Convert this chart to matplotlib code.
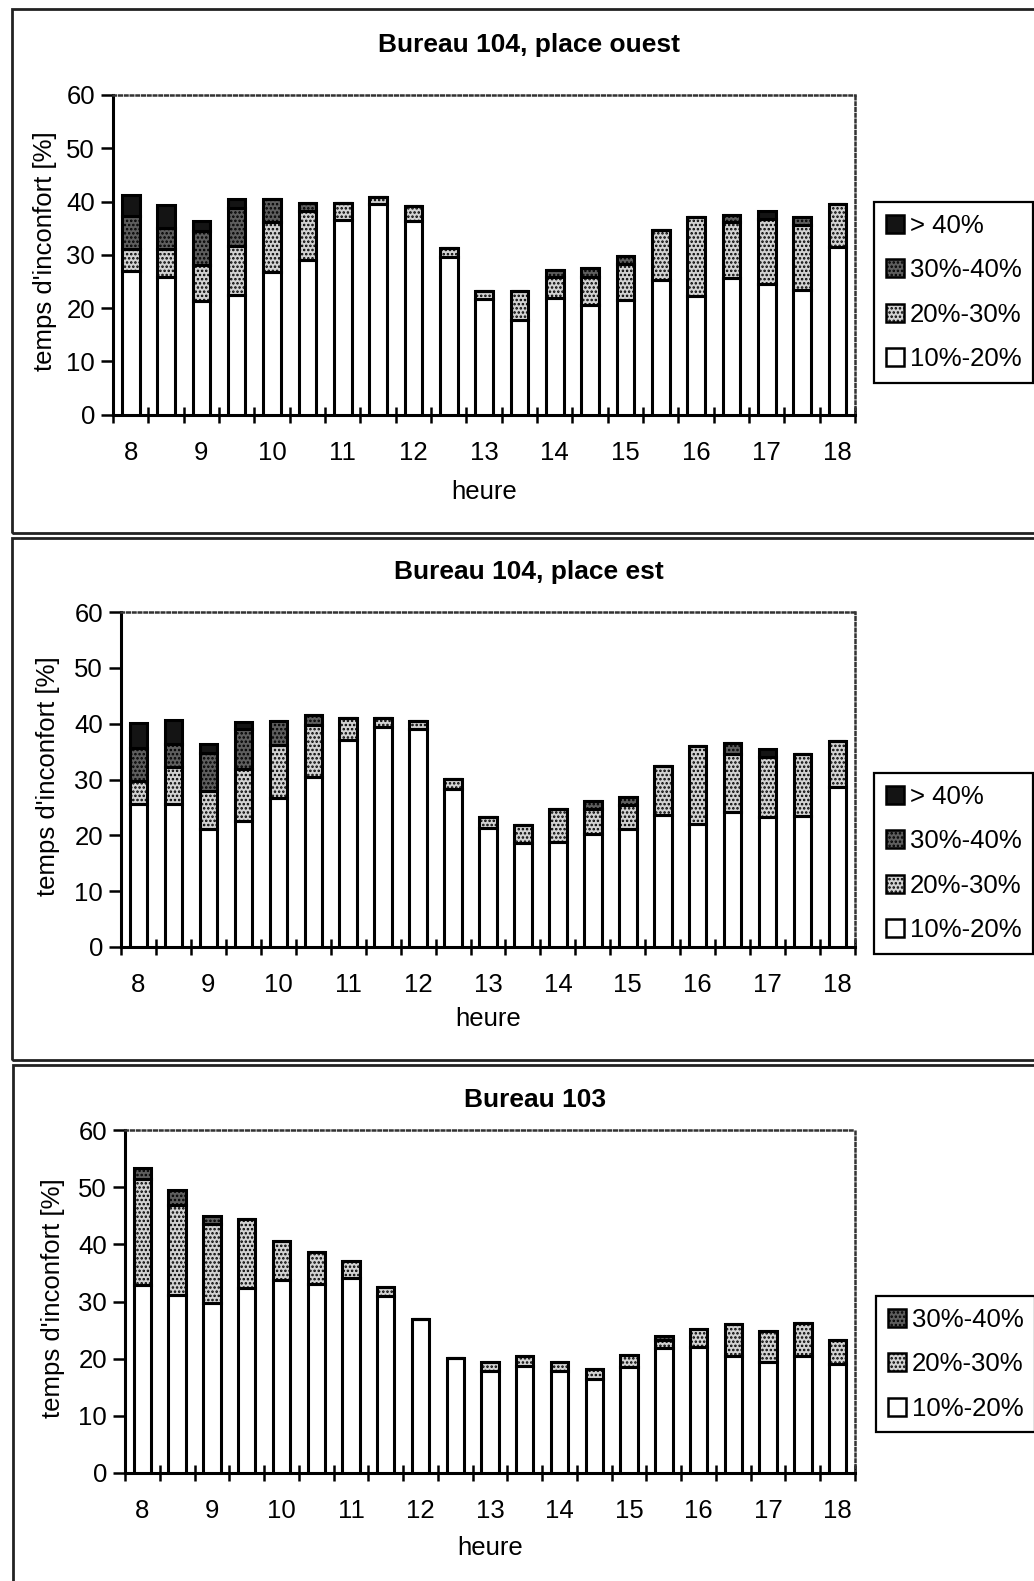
import numpy as np
import matplotlib
matplotlib.use("Agg")
import matplotlib.pyplot as plt
from matplotlib.patches import Patch, Rectangle

plt.rcParams['font.family'] = ['Liberation Sans', 'DejaVu Sans']
plt.rcParams['hatch.linewidth'] = 1.2

# ===== données =====
heures = [8, 9, 10, 11, 12, 13, 14, 15, 16, 17, 18]
n_bars = 21  # une barre par demi-heure, de 8h à 18h

titres = ["Bureau 104, place ouest", "Bureau 104, place est", "Bureau 103"]
classes = ["> 40%", "30%-40%", "20%-30%", "10%-20%"]

# Bureau 104, place ouest
ouest_10_20 = [27.0, 25.8, 21.4, 22.5, 26.7, 29.1, 36.5, 39.5, 36.3, 29.6, 21.7,
               17.7, 21.9, 20.6, 21.5, 25.3, 22.2, 25.6, 24.5, 23.4, 31.4]
ouest_20_30 = [4.1, 5.3, 6.6, 9.2, 9.4, 9.2, 3.3, 1.4, 2.9, 1.7, 1.4,
               5.4, 3.9, 5.2, 6.8, 9.4, 14.8, 10.5, 12.2, 12.2, 8.1]
ouest_30_40 = [6.2, 4.0, 6.5, 7.1, 4.3, 1.5, 0, 0, 0, 0, 0,
               0, 1.4, 1.8, 1.5, 0, 0, 1.3, 0, 1.5, 0]
ouest_40 = [3.9, 4.2, 1.8, 1.6, 0, 0, 0, 0, 0, 0, 0,
            0, 0, 0, 0, 0, 0, 0, 1.6, 0, 0]

# Bureau 104, place est
est_10_20 = [25.7, 25.7, 21.2, 22.6, 26.7, 30.4, 37.0, 39.4, 39.1, 28.3, 21.4,
             18.7, 18.8, 20.3, 21.1, 23.6, 22.0, 24.1, 23.2, 23.5, 28.6]
est_20_30 = [4.1, 6.5, 6.8, 9.3, 9.4, 9.4, 4.1, 1.7, 1.3, 1.8, 1.8,
             3.1, 5.9, 4.5, 4.3, 8.8, 14.0, 10.5, 10.8, 11.1, 8.3]
est_30_40 = [5.8, 4.2, 6.8, 7.1, 4.3, 1.7, 0, 0, 0, 0, 0,
             0, 0, 1.4, 1.4, 0, 0, 2.0, 0, 0, 0]
est_40 = [4.6, 4.2, 1.5, 1.3, 0, 0, 0, 0, 0, 0, 0,
          0, 0, 0, 0, 0, 0, 0, 1.4, 0, 0]

# Bureau 103
b103_10_20 = [32.9, 31.1, 29.8, 32.4, 33.7, 33.1, 34.1, 30.9, 27.0, 20.2, 17.9,
              18.8, 17.9, 16.4, 18.6, 21.9, 22.1, 20.4, 19.4, 20.4, 19.0]
b103_20_30 = [18.6, 15.8, 13.7, 12.0, 6.9, 5.5, 3.0, 1.7, 0, 0, 1.6,
              1.7, 1.6, 1.8, 2.0, 1.4, 3.1, 5.6, 5.5, 5.9, 4.2]
b103_30_40 = [1.8, 2.6, 1.5, 0, 0, 0, 0, 0, 0, 0, 0,
              0, 0, 0, 0, 0.6, 0, 0, 0, 0, 0]

# ===== styles des classes =====
styles = {
    "10%-20%": dict(facecolor="white", hatch=None),
    "20%-30%": dict(facecolor="#d2d2d2", hatch="...."),
    "30%-40%": dict(facecolor="#5e5e5e", hatch="...."),
    "> 40%": dict(facecolor="#141414", hatch=None),
}

FS = 18.5
W, H = 1034, 1581
fig = plt.figure(figsize=(W / 100, H / 100), dpi=100)


def px_axes(left, right, top, bottom):
    return fig.add_axes([left / W, 1 - bottom / H, (right - left) / W, (bottom - top) / H])


def cadre(left, top, bottom):
    fig.patches.append(Rectangle((left / W, 1 - bottom / H), 1.2, (bottom - top) / H,
                                 transform=fig.transFigure, fill=False,
                                 edgecolor="#222222", linewidth=2))


def panneau(ax, series, titre, title_xy, leg_xy, ylab_x, xlab_y):
    x = np.arange(n_bars)
    bottom = np.zeros(n_bars)
    for nom, vals in series:
        st = styles[nom]
        ax.bar(x, vals, width=0.5, bottom=bottom, facecolor=st["facecolor"],
               hatch=st["hatch"], edgecolor="black", linewidth=2.2, zorder=3)
        bottom += np.array(vals)

    ax.set_xlim(-0.5, n_bars - 0.5)
    ax.set_ylim(0, 60)
    ax.set_yticks(range(0, 61, 10))
    ax.tick_params(axis="y", direction="out", length=9, width=1.8, pad=4, labelsize=FS)
    ax.set_xticks(np.arange(-0.5, n_bars, 1.0))
    ax.set_xticklabels([])
    ax.tick_params(axis="x", which="major", direction="inout", length=12, width=1.8)
    ax.set_xticks(np.arange(0, n_bars, 2), minor=True)
    ax.set_xticklabels([str(h) for h in heures], minor=True)
    ax.tick_params(axis="x", which="minor", length=0, pad=19, labelsize=FS)

    for s in ["left", "bottom"]:
        ax.spines[s].set_linewidth(2.2)
    for s in ["top", "right"]:
        ax.spines[s].set_linewidth(1.8)
        ax.spines[s].set_linestyle((0, (1, 1.3)))
        ax.spines[s].set_color("#333333")

    ax.set_ylabel("temps d'inconfort [%]", fontsize=FS)
    ax.yaxis.set_label_coords(ylab_x, 0.51)
    ax.set_xlabel("heure", fontsize=FS)
    ax.xaxis.set_label_coords(0.5, xlab_y)

    fig.text(title_xy[0] / W, 1 - title_xy[1] / H, titre, ha="center", va="center",
             fontsize=19, fontweight="bold")

    noms = [nom for nom, _ in series][::-1]
    handles = [Patch(facecolor=styles[n]["facecolor"], hatch=styles[n]["hatch"],
                     edgecolor="black", linewidth=1.8) for n in noms]
    leg = fig.legend(handles, noms, loc="upper left",
                     bbox_to_anchor=(leg_xy[0] / W, 1 - leg_xy[1] / H),
                     fontsize=FS, frameon=True, fancybox=False, framealpha=1,
                     edgecolor="black", handlelength=0.7, handleheight=0.7,
                     handletextpad=0.25, labelspacing=0.8, borderpad=0.45,
                     borderaxespad=0)
    leg.get_frame().set_linewidth(1.6)


# cadres des trois graphiques
cadre(12, 9, 533)
cadre(12, 538, 1060)
cadre(13, 1065, 1600)

ax1 = px_axes(113, 855, 95, 414.5)
panneau(ax1, [("10%-20%", ouest_10_20), ("20%-30%", ouest_20_30),
              ("30%-40%", ouest_30_40), ("> 40%", ouest_40)],
        titres[0], (529, 45), (874, 202), -0.075, -0.205)

ax2 = px_axes(121, 855, 612, 947)
panneau(ax2, [("10%-20%", est_10_20), ("20%-30%", est_20_30),
              ("30%-40%", est_30_40), ("> 40%", est_40)],
        titres[1], (529, 572), (874, 773), -0.083, -0.178)

ax3 = px_axes(125, 855, 1130, 1473)
panneau(ax3, [("10%-20%", b103_10_20), ("20%-30%", b103_20_30),
              ("30%-40%", b103_30_40)],
        titres[2], (535, 1100), (876, 1296), -0.082, -0.183)

fig.savefig("out.png", dpi=100)
